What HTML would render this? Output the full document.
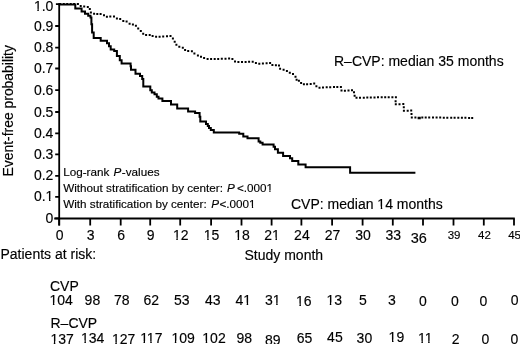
<!DOCTYPE html>
<html><head><meta charset="utf-8"><style>
html,body{margin:0;padding:0;background:#fff;width:520px;height:344px;overflow:hidden}
svg{display:block;will-change:transform;font-family:"Liberation Sans",sans-serif}
</style></head><body>
<svg width="520" height="344" viewBox="0 0 520 344" font-family="Liberation Sans, sans-serif" fill="#000" stroke="#000" stroke-width="0.15">
<path d="M59.2,3.3 V225.5 M54.2,218.5 H514.8" stroke="#000" stroke-width="1.8" fill="none"/>
<path d="M55.2,218.4 H59.2 M55.2,196.8 H59.2 M55.2,175.8 H59.2 M55.2,154.4 H59.2 M55.2,133.3 H59.2 M55.2,112.0 H59.2 M55.2,90.1 H59.2 M55.2,68.5 H59.2 M55.2,47.6 H59.2 M55.2,26.0 H59.2 M55.9,4.1 H59.2 M59.2,218.5 V225.5 M90.2,218.5 V225.5 M120.7,218.5 V225.5 M150.2,218.5 V225.5 M180.2,218.5 V225.5 M211.1,218.5 V225.5 M241.5,218.5 V225.5 M271.6,218.5 V225.5 M301.4,218.5 V225.5 M332.1,218.5 V225.5 M362.6,218.5 V225.5 M392.8,218.5 V225.5 M423.0,218.5 V225.5 M453.5,218.5 V225.5 M483.8,218.5 V225.5 M514.0,218.5 V225.5" stroke="#000" stroke-width="1.8" fill="none"/>
<path d="M59.30,2.90h2.0v2.0h-2.0zM62.80,2.90h2.0v2.0h-2.0zM66.20,2.90h2.0v2.0h-2.0zM69.70,2.90h2.0v2.0h-2.0zM73.10,2.90h2.0v2.0h-2.0zM76.90,3.10h2.0v2.0h-2.0zM79.70,5.10h2.0v2.0h-2.0zM83.20,5.50h2.0v2.0h-2.0zM86.80,5.90h2.0v2.0h-2.0zM88.80,8.00h2.0v2.0h-2.0zM89.90,11.50h2.0v2.0h-2.0zM93.10,12.70h2.0v2.0h-2.0zM96.30,13.00h2.0v2.0h-2.0zM99.60,13.10h2.0v2.0h-2.0zM103.00,14.30h2.0v2.0h-2.0zM105.90,15.80h2.0v2.0h-2.0zM109.30,15.60h2.0v2.0h-2.0zM113.00,15.40h2.0v2.0h-2.0zM115.90,17.60h2.0v2.0h-2.0zM119.20,17.90h2.0v2.0h-2.0zM122.30,19.90h2.0v2.0h-2.0zM125.60,20.40h2.0v2.0h-2.0zM128.60,22.80h2.0v2.0h-2.0zM131.90,23.40h2.0v2.0h-2.0zM134.90,24.80h2.0v2.0h-2.0zM137.20,27.50h2.0v2.0h-2.0zM139.80,30.10h2.0v2.0h-2.0zM142.20,32.70h2.0v2.0h-2.0zM145.10,34.00h2.0v2.0h-2.0zM148.70,33.90h2.0v2.0h-2.0zM151.60,35.00h2.0v2.0h-2.0zM155.10,35.80h2.0v2.0h-2.0zM158.60,35.80h2.0v2.0h-2.0zM162.20,35.50h2.0v2.0h-2.0zM166.00,35.30h2.0v2.0h-2.0zM169.50,35.00h2.0v2.0h-2.0zM171.90,37.60h2.0v2.0h-2.0zM173.70,40.70h2.0v2.0h-2.0zM175.40,43.80h2.0v2.0h-2.0zM178.30,45.80h2.0v2.0h-2.0zM181.80,46.80h2.0v2.0h-2.0zM184.10,49.10h2.0v2.0h-2.0zM187.20,50.10h2.0v2.0h-2.0zM190.90,50.30h2.0v2.0h-2.0zM193.40,52.60h2.0v2.0h-2.0zM196.90,54.60h2.0v2.0h-2.0zM200.00,55.70h2.0v2.0h-2.0zM203.10,56.90h2.0v2.0h-2.0zM206.60,57.90h2.0v2.0h-2.0zM210.10,57.90h2.0v2.0h-2.0zM213.70,57.90h2.0v2.0h-2.0zM217.20,57.90h2.0v2.0h-2.0zM220.80,57.80h2.0v2.0h-2.0zM224.50,57.80h2.0v2.0h-2.0zM228.10,57.60h2.0v2.0h-2.0zM231.40,58.00h2.0v2.0h-2.0zM234.00,60.50h2.0v2.0h-2.0zM237.40,61.10h2.0v2.0h-2.0zM241.00,60.90h2.0v2.0h-2.0zM244.60,60.90h2.0v2.0h-2.0zM248.10,60.70h2.0v2.0h-2.0zM251.70,60.85h2.0v2.0h-2.0zM254.90,61.90h2.0v2.0h-2.0zM258.30,62.80h2.0v2.0h-2.0zM261.90,62.50h2.0v2.0h-2.0zM265.60,62.20h2.0v2.0h-2.0zM269.10,61.90h2.0v2.0h-2.0zM271.40,63.90h2.0v2.0h-2.0zM274.90,64.20h2.0v2.0h-2.0zM278.00,64.60h2.0v2.0h-2.0zM279.10,67.70h2.0v2.0h-2.0zM282.60,68.70h2.0v2.0h-2.0zM285.90,70.00h2.0v2.0h-2.0zM288.80,71.80h2.0v2.0h-2.0zM292.00,73.10h2.0v2.0h-2.0zM294.50,75.75h2.0v2.0h-2.0zM295.60,78.75h2.0v2.0h-2.0zM297.90,79.70h2.0v2.0h-2.0zM300.10,81.90h2.0v2.0h-2.0zM302.90,83.30h2.0v2.0h-2.0zM306.10,83.20h2.0v2.0h-2.0zM309.70,82.90h2.0v2.0h-2.0zM313.20,82.60h2.0v2.0h-2.0zM315.40,85.20h2.0v2.0h-2.0zM318.50,86.70h2.0v2.0h-2.0zM322.00,86.50h2.0v2.0h-2.0zM325.70,86.30h2.0v2.0h-2.0zM329.20,86.20h2.0v2.0h-2.0zM333.00,86.00h2.0v2.0h-2.0zM336.30,86.00h2.0v2.0h-2.0zM339.90,86.00h2.0v2.0h-2.0zM340.50,89.50h2.0v2.0h-2.0zM343.90,89.70h2.0v2.0h-2.0zM347.50,89.50h2.0v2.0h-2.0zM351.00,89.30h2.0v2.0h-2.0zM353.00,91.30h2.0v2.0h-2.0zM353.60,94.70h2.0v2.0h-2.0zM355.50,96.70h2.0v2.0h-2.0zM359.00,96.70h2.0v2.0h-2.0zM362.80,96.70h2.0v2.0h-2.0zM366.30,96.50h2.0v2.0h-2.0zM369.80,96.40h2.0v2.0h-2.0zM373.50,96.40h2.0v2.0h-2.0zM377.00,96.30h2.0v2.0h-2.0zM380.70,96.30h2.0v2.0h-2.0zM384.20,96.20h2.0v2.0h-2.0zM387.70,96.20h2.0v2.0h-2.0zM391.40,96.20h2.0v2.0h-2.0zM394.90,96.30h2.0v2.0h-2.0zM394.60,100.30h2.0v2.0h-2.0zM394.80,103.35h2.0v2.0h-2.0zM398.50,103.15h2.0v2.0h-2.0zM402.30,103.10h2.0v2.0h-2.0zM402.80,106.30h2.0v2.0h-2.0zM402.90,109.70h2.0v2.0h-2.0zM406.70,109.70h2.0v2.0h-2.0zM410.20,109.50h2.0v2.0h-2.0zM410.50,112.95h2.0v2.0h-2.0zM410.80,116.55h2.0v2.0h-2.0zM414.40,116.60h2.0v2.0h-2.0zM421.30,116.40h2.0v2.0h-2.0zM424.70,116.40h2.0v2.0h-2.0zM428.20,116.40h2.0v2.0h-2.0zM432.00,116.40h2.0v2.0h-2.0zM435.60,116.60h2.0v2.0h-2.0zM439.20,116.60h2.0v2.0h-2.0zM442.80,116.80h2.0v2.0h-2.0zM446.30,116.80h2.0v2.0h-2.0zM450.20,116.80h2.0v2.0h-2.0zM453.60,116.80h2.0v2.0h-2.0zM457.30,116.80h2.0v2.0h-2.0zM460.90,116.80h2.0v2.0h-2.0zM464.40,116.80h2.0v2.0h-2.0zM468.10,117.00h2.0v2.0h-2.0zM471.20,117.00h2.0v2.0h-2.0zM417.6,116.7h3.2v2.6h-3.2z" fill="#000" stroke="none"/>
<path d="M58.5,4.6 H75.3 V8.6 H81.6 V11.6 H85 V13.7 H88.2 V15.7 H90.5 V17.5 H91.4 V24.2 H92.1 V32.4 H93.7 V38.1 H100.7 V40.7 H107 V43.3 H109 V46.3 H110.7 V49.4 H114.2 V51.1 H116.9 V55.9 H119.8 V60.3 H121.6 V63.6 H130.6 V66.3 H131 V69.8 H135.5 V73.7 H140 V75.9 H142.2 V79 H143.3 V86.6 H150.3 V90.2 H151.8 V92.4 H154.5 V94.2 H156.8 V96.7 H158.5 V98.5 H162.4 V100.9 H171 V104.6 H177.2 V108.5 H188.1 V111.6 H195.1 V112.9 H199.6 V116.8 H200.3 V121.6 H206 V124.1 H207.8 V125.9 H209 V128.1 H210.8 V129.9 H213.8 V132.5 H239.2 V133.8 H243.3 V136.6 H247.5 V138.3 H258.6 V141.6 H260.3 V142.8 H262.6 V144.6 H273.6 V146.7 H275 V149.3 H277.9 V152.8 H283.1 V155.9 H290 V158.2 H292.2 V161 H298.3 V164.6 H305.6 V167.3 H350.1 V172.7 H415.4" stroke="#000" stroke-width="2" fill="none" stroke-linejoin="miter"/>
<text x="53.4" y="223.0" font-size="14" text-anchor="end" >0</text>
<text x="53.4" y="201.4" font-size="14" text-anchor="end" >0.1</text>
<text x="53.4" y="180.4" font-size="14" text-anchor="end" >0.2</text>
<text x="53.4" y="159.0" font-size="14" text-anchor="end" >0.3</text>
<text x="53.4" y="137.9" font-size="14" text-anchor="end" >0.4</text>
<text x="53.4" y="116.6" font-size="14" text-anchor="end" >0.5</text>
<text x="53.4" y="94.7" font-size="14" text-anchor="end" >0.6</text>
<text x="53.4" y="73.1" font-size="14" text-anchor="end" >0.7</text>
<text x="53.4" y="52.2" font-size="14" text-anchor="end" >0.8</text>
<text x="53.4" y="30.6" font-size="14" text-anchor="end" >0.9</text>
<text x="53.4" y="11.0" font-size="14" text-anchor="end" >1.0</text>
<text x="59.7" y="239.8" font-size="14" text-anchor="middle" >0</text>
<text x="90.7" y="239.8" font-size="14" text-anchor="middle" >3</text>
<text x="121.2" y="239.8" font-size="14" text-anchor="middle" >6</text>
<text x="150.7" y="239.8" font-size="14" text-anchor="middle" >9</text>
<text x="180.7" y="239.8" font-size="14" text-anchor="middle" >12</text>
<text x="211.6" y="239.8" font-size="14" text-anchor="middle" >15</text>
<text x="242.0" y="239.8" font-size="14" text-anchor="middle" >18</text>
<text x="272.1" y="239.8" font-size="14" text-anchor="middle" >21</text>
<text x="301.9" y="239.8" font-size="14" text-anchor="middle" >24</text>
<text x="332.6" y="239.8" font-size="14" text-anchor="middle" >27</text>
<text x="363.1" y="239.8" font-size="14" text-anchor="middle" >30</text>
<text x="393.3" y="239.8" font-size="14" text-anchor="middle" >33</text>
<text x="418.7" y="242.8" font-size="14.5" text-anchor="middle" >36</text>
<text x="454.1" y="239.4" font-size="11.5" text-anchor="middle" >39</text>
<text x="484.4" y="239.4" font-size="11.5" text-anchor="middle" >42</text>
<text x="514.6" y="239.4" font-size="11.5" text-anchor="middle" >45</text>
<text x="0" y="0" font-size="13.9" transform="translate(12.6,176.4) rotate(-90)">Event-free probability</text>
<text x="334" y="65.8" font-size="14" text-anchor="start" >R–CVP: median 35 months</text>
<text x="291" y="208.8" font-size="14" text-anchor="start" >CVP: median 14 months</text>
<text x="63.2" y="175.8" font-size="11.7" text-anchor="start" >Log-rank <tspan x="113.6" font-style="italic">P</tspan><tspan x="121.8">-values</tspan></text>
<text x="63.2" y="192.1" font-size="11.7" text-anchor="start" >Without stratification by center:<tspan x="227.1" font-style="italic">P</tspan><tspan x="236.9">&lt;.0001</tspan></text>
<text x="63.2" y="208.3" font-size="11.7" text-anchor="start" >With stratification by center:<tspan x="211.2" font-style="italic">P</tspan><tspan x="219.5">&lt;.0001</tspan></text>
<text x="0.5" y="258.9" font-size="14" text-anchor="start" >Patients at risk:</text>
<text x="244.5" y="259.6" font-size="14" text-anchor="start" >Study month</text>
<text x="50" y="290.8" font-size="14" text-anchor="start" >CVP</text>
<text x="50.5" y="327.7" font-size="14" text-anchor="start" >R–CVP</text>
<text x="61.2" y="305.1" font-size="14" text-anchor="middle" >104</text>
<text x="92.4" y="305.4" font-size="14" text-anchor="middle" >98</text>
<text x="121.7" y="305.4" font-size="14" text-anchor="middle" >78</text>
<text x="151.2" y="305.1" font-size="14" text-anchor="middle" >62</text>
<text x="181.7" y="305.1" font-size="14" text-anchor="middle" >53</text>
<text x="212.7" y="305.1" font-size="14" text-anchor="middle" >43</text>
<text x="243.3" y="305.1" font-size="14" text-anchor="middle" >41</text>
<text x="272.8" y="305.1" font-size="14" text-anchor="middle" >31</text>
<text x="303.8" y="305.8" font-size="14" text-anchor="middle" >16</text>
<text x="334.2" y="304.8" font-size="14" text-anchor="middle" >13</text>
<text x="363" y="304.6" font-size="14" text-anchor="middle" >5</text>
<text x="391.9" y="305.1" font-size="14" text-anchor="middle" >3</text>
<text x="423" y="306.1" font-size="14" text-anchor="middle" >0</text>
<text x="454.9" y="306.1" font-size="14" text-anchor="middle" >0</text>
<text x="483.5" y="306.1" font-size="14" text-anchor="middle" >0</text>
<text x="514.6" y="305.1" font-size="14" text-anchor="middle" >0</text>
<text x="62.1" y="343.7" font-size="14" text-anchor="middle" >137</text>
<text x="92.7" y="342.5" font-size="14" text-anchor="middle" >134</text>
<text x="123.6" y="344.3" font-size="14" text-anchor="middle" >127</text>
<text x="151.3" y="343.4" font-size="14" text-anchor="middle" >117</text>
<text x="183.1" y="343.0" font-size="14" text-anchor="middle" >109</text>
<text x="214" y="343.0" font-size="14" text-anchor="middle" >102</text>
<text x="244.2" y="343.0" font-size="14" text-anchor="middle" >98</text>
<text x="272.7" y="344.6" font-size="14" text-anchor="middle" >89</text>
<text x="304.5" y="343.0" font-size="14" text-anchor="middle" >65</text>
<text x="334.9" y="342.3" font-size="14" text-anchor="middle" >45</text>
<text x="364.4" y="343.0" font-size="14" text-anchor="middle" >30</text>
<text x="396.4" y="341.8" font-size="14" text-anchor="middle" >19</text>
<text x="425.3" y="343.0" font-size="14" text-anchor="middle" >11</text>
<text x="455.6" y="343.5" font-size="14" text-anchor="middle" >2</text>
<text x="485.5" y="344.1" font-size="14" text-anchor="middle" >0</text>
<text x="514.5" y="344.1" font-size="14" text-anchor="middle" >0</text>
<path d="M45.97,199.05H48.99V202.70H45.97z M50.49,199.05H53.41V202.70H50.49z M34.30,8.65H37.32V12.30H34.30z M38.82,8.65H41.73V12.30H38.82z M173.28,237.45H176.30V241.10H173.28z M177.80,237.45H180.71V241.10H177.80z M204.18,237.45H207.20V241.10H204.18z M208.70,237.45H211.61V241.10H208.70z M234.58,237.45H237.60V241.10H234.58z M239.10,237.45H242.01V241.10H239.10z M272.46,237.45H275.48V241.10H272.46z M276.98,237.45H279.89V241.10H276.98z M377.73,206.45H380.75V210.10H377.73z M382.25,206.45H385.16V210.10H382.25z M266.65,189.93H269.27V193.40H266.65z M270.57,189.93H273.10V193.40H270.57z M249.25,206.13H251.87V209.60H249.25z M253.17,206.13H255.70V209.60H253.17z M49.89,302.75H52.91V306.40H49.89z M54.41,302.75H57.32V306.40H54.41z M243.66,302.75H246.68V306.40H243.66z M248.18,302.75H251.09V306.40H248.18z M273.16,302.75H276.18V306.40H273.16z M277.68,302.75H280.59V306.40H277.68z M296.38,303.45H299.40V307.10H296.38z M300.90,303.45H303.81V307.10H300.90z M326.78,302.45H329.80V306.10H326.78z M331.30,302.45H334.21V306.10H331.30z M50.79,341.35H53.81V345.00H50.79z M55.31,341.35H58.22V345.00H55.31z M81.39,340.15H84.41V343.80H81.39z M85.91,340.15H88.82V343.80H85.91z M112.29,341.95H115.31V345.60H112.29z M116.81,341.95H119.72V345.60H116.81z M140.50,341.05H143.53V344.70H140.50z M145.02,341.05H147.94V344.70H145.02z M147.24,341.05H150.26V344.70H147.24z M151.76,341.05H154.67V344.70H151.76z M171.79,340.65H174.81V344.30H171.79z M176.31,340.65H179.22V344.30H176.31z M202.69,340.65H205.71V344.30H202.69z M207.21,340.65H210.12V344.30H207.21z M388.98,339.45H392.00V343.10H388.98z M393.50,339.45H396.41V343.10H393.50z M418.39,340.65H421.42V344.30H418.39z M422.91,340.65H425.83V344.30H422.91z M425.13,340.65H428.15V344.30H425.13z M429.65,340.65H432.56V344.30H429.65z" fill="#fff" stroke="none"/>
</svg>
</body></html>
